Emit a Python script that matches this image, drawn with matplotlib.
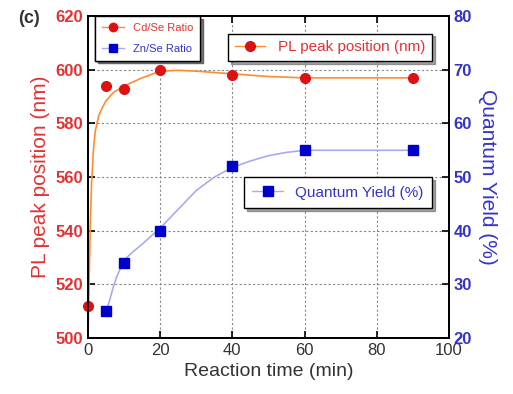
import matplotlib
matplotlib.use("Agg")
import matplotlib.pyplot as plt
from matplotlib.lines import Line2D

plt.rcParams['font.family'] = ['Liberation Sans', 'DejaVu Sans']

# measured points
time_pl = [0, 5, 10, 20, 40, 60, 90]
pl_peak = [512, 594, 593, 600, 598, 597, 597]
time_qy = [5, 10, 20, 40, 60, 90]
qy = [25, 34, 40, 52, 55, 55]

# fitted guide curves
fit_pl_t = [0, 0.3, 0.6, 1, 1.5, 2, 3, 4, 5, 7, 10, 15, 20, 25, 30, 40, 50, 60, 90]
fit_pl_y = [500, 520, 540, 558, 570, 577, 583, 586, 588.5, 591.5, 594, 597, 599.5, 599.8, 599.5, 598.5, 597.5, 597, 597]
fit_qy_t = [5, 6, 7, 8, 10, 12, 15, 20, 25, 30, 35, 40, 45, 50, 55, 60, 90]
fit_qy_y = [25, 27, 29.5, 31.5, 34.5, 35.8, 37.5, 40.5, 44, 47.5, 50, 51.8, 53, 54, 54.6, 55, 55]

red = '#dd1111'
orange = '#ff8c33'
blue = '#0000cc'
lblue = '#aaaaee'
red_txt = '#e03333'
blue_txt = '#3333cc'

fig = plt.figure(figsize=(5.13, 3.94), dpi=100)
ax = fig.add_axes([0.1715, 0.142, 0.7035, 0.817])
ax2 = ax.twinx()

ax.plot(fit_pl_t, fit_pl_y, color=orange, lw=1.2, zorder=2)
ax.plot(time_pl, pl_peak, 'o', color=red, ms=7, zorder=3, clip_on=False)
ax2.plot(fit_qy_t, fit_qy_y, color=lblue, lw=1.2, zorder=2)
ax2.plot(time_qy, qy, 's', color=blue, ms=7, zorder=3)

ax.set_xlim(0, 100)
ax.set_ylim(500, 620)
ax2.set_ylim(20, 80)
ax.set_xticks([0, 20, 40, 60, 80, 100])
ax.set_yticks([500, 520, 540, 560, 580, 600, 620])
ax2.set_yticks([20, 30, 40, 50, 60, 70, 80])

ax.grid(True, color='#888888', ls=(0, (2, 2)), lw=0.8)
ax.tick_params(direction='in', length=5, width=1.2, top=True, labelsize=12, colors='black')
ax.tick_params(axis='y', labelcolor=red_txt, right=False)
ax.tick_params(axis='x', labelcolor='#333333')
ax2.tick_params(direction='in', length=5, width=1.2, labelsize=12, labelcolor=blue_txt)
for a in (ax, ax2):
    for s in a.spines.values():
        s.set_linewidth(1.3)
for lab in ax.get_yticklabels() + ax2.get_yticklabels():
    lab.set_fontweight('bold')

ax.set_xlabel('Reaction time (min)', fontsize=14, color='#333333')
ax.set_ylabel('PL peak position (nm)', fontsize=15, color=red_txt)
ax2.set_ylabel('Quantum Yield (%)', fontsize=15, color=blue_txt, rotation=270, labelpad=18)
fig.text(0.035, 0.952, '(c)', fontsize=13, fontweight='bold', color='#333333', va='center')

h_cd = Line2D([], [], color=orange, marker='o', mfc=red, mec=red, ms=6, lw=1)
h_zn = Line2D([], [], color=lblue, marker='s', mfc=blue, mec=blue, ms=6, lw=1)
leg1 = ax.legend([h_cd, h_zn], ['Cd/Se Ratio', 'Zn/Se Ratio'], loc='upper left',
                 bbox_to_anchor=(0.02, 1.0), borderaxespad=0, fontsize=8, fancybox=False,
                 shadow=True, edgecolor='black', framealpha=1, handlelength=2.0,
                 borderpad=0.6, labelspacing=1.0)
for t, c in zip(leg1.get_texts(), [red_txt, blue_txt]):
    t.set_color(c)
ax.add_artist(leg1)

h_pl = Line2D([], [], color=orange, marker='o', mfc=red, mec=red, ms=7, lw=1)
leg2 = ax2.legend([h_pl], ['PL peak position (nm)'], loc='upper right',
                  bbox_to_anchor=(0.953, 0.946), borderaxespad=0, fontsize=11, fancybox=False,
                  shadow=True, edgecolor='black', framealpha=1, handlelength=2.0,
                  borderpad=0.45)
leg2.get_texts()[0].set_color(red_txt)
ax2.add_artist(leg2)

h_qy = Line2D([], [], color=lblue, marker='s', mfc=blue, mec=blue, ms=7, lw=1)
leg3 = ax2.legend([h_qy], ['Quantum Yield (%)'], loc='upper right',
                  bbox_to_anchor=(0.953, 0.5), borderaxespad=0, fontsize=11, fancybox=False,
                  shadow=True, edgecolor='black', framealpha=1, handlelength=2.0,
                  borderpad=0.55)
leg3.get_texts()[0].set_color(blue_txt)

fig.savefig('out.png', dpi=100)
